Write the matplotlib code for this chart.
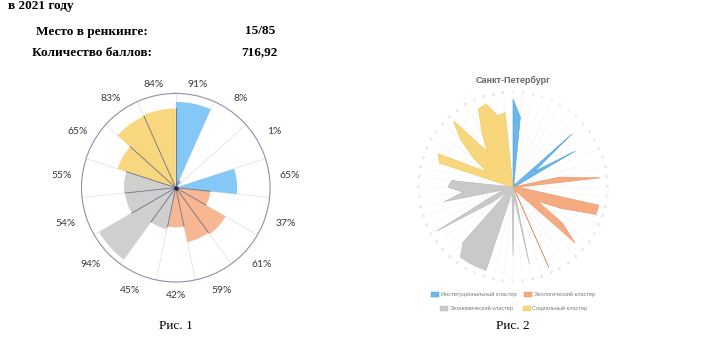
import numpy as np
import matplotlib
matplotlib.use("Agg")
import matplotlib.pyplot as plt
from matplotlib.patches import Rectangle

# ---------------- data ----------------
header_year = "в 2021 году"
rank_label = "Место в ренкинге:"
rank_value = "15/85"
score_label = "Количество баллов:"
score_value = "716,92"

fig1_values = [91, 8, 1, 65, 37, 61, 59, 42, 45, 94, 54, 55, 65, 83, 84]
fig1_clusters = ["inst"] * 4 + ["eco"] * 4 + ["econ"] * 4 + ["soc"] * 3
fig1_caption = "Рис. 1"

spb_title = "Санкт-Петербург"
spb_inst = [1.00, 0.80, 0.05, 0.04, 0.03, 0.03, 0.04, 0.06, 0.90, 0.30, 0.82, 0.06, 0.04]
spb_eco = [0.54, 1.00, 0.08, 0.10, 1.00, 1.03, 0.60, 0.32, 0.69, 0.95, 0.10, 0.05, 0.05, 1.03]
spb_econ = [0.05, 0.90, 0.12, 0.78, 0.10, 0.08, 1.01, 1.00, 1.00, 1.03, 0.85, 0.08, 0.30,
            1.02, 0.25, 0.10, 0.80, 0.57, 0.74, 0.70]
spb_soc = [0.03, 0.88, 0.93, 0.34, 0.55, 0.80, 1.02, 0.50, 0.70, 0.97, 0.99, 0.83, 0.85]
fig2_caption = "Рис. 2"

legend_names = {
    "inst": "Институциональный кластер",
    "eco": "Экологический кластер",
    "econ": "Экономический кластер",
    "soc": "Социальный кластер",
}

# ---------------- style ----------------
col1 = {"inst": "#84c8f8", "eco": "#f7b793", "econ": "#cfcfcf", "soc": "#f9d77f"}
col2 = {"inst": "#6ab6ee", "eco": "#f5aa80", "econ": "#c9c9c9", "soc": "#f8d67c"}
edge2 = {"inst": "#4d9fdc", "eco": "#e8946a", "econ": "#b5b5b5", "soc": "#eec65f"}

W, H = 720, 340
fig = plt.figure(figsize=(7.2, 3.4), dpi=100)
fig.patch.set_facecolor("white")


def fx(x):
    return x / W


def fy(y):
    return 1 - y / H


serif = ["Liberation Serif", "DejaVu Serif"]
fig.text(fx(8), fy(9.5), header_year, family=serif, weight="bold", fontsize=9.5, va="baseline")
fig.text(fx(36), fy(34.5), rank_label, family=serif, weight="bold", fontsize=9.5, va="baseline")
fig.text(fx(260.5), fy(34.5), rank_value, family=serif, weight="bold", fontsize=9.5,
         va="baseline", ha="center")
fig.text(fx(32), fy(55.5), score_label, family=serif, weight="bold", fontsize=9.5, va="baseline")
fig.text(fx(259.5), fy(55.5), score_value, family=serif, weight="bold", fontsize=9.5,
         va="baseline", ha="center")

# ---------------- figure 1: polar area ----------------
c1x, c1y, R1 = 175.8, 187.7, 94.3
ax1 = fig.add_axes([fx(c1x - R1), fy(c1y + R1), 2 * R1 / W, 2 * R1 / H], projection="polar")
ax1.set_theta_zero_location("N")
ax1.set_theta_direction(-1)
n1 = len(fig1_values)
step1 = 2 * np.pi / n1
th1 = np.arange(n1) * step1 + step1 / 2
r1 = np.array(fig1_values) / 100.0
ax1.bar(th1, r1, width=step1, color=[col1[c] for c in fig1_clusters],
        edgecolor="none", zorder=2)
for k in range(n1):
    a = k * step1
    inner = min(r1[k - 1], r1[k])
    ax1.plot([a, a], [0, inner], color="#6e6e80", lw=0.6, zorder=3)
    ax1.plot([a, a], [inner, 1], color="#e3e3e3", lw=0.6, zorder=1)
ax1.plot([0], [0], "o", ms=2.2, color="#22264a", zorder=4)
ax1.set_ylim(0, 1)
ax1.set_xticks([])
ax1.set_yticks([])
ax1.grid(False)
ax1.spines["polar"].set_color("#8f8fae")
ax1.spines["polar"].set_linewidth(0.8)
for t, v in zip(th1, fig1_values):
    ang = np.pi / 2 - t
    rp = 103 + 12 * abs(np.cos(ang)) + 5 * max(0.0, -np.sin(ang))
    ax1.text(t, rp / R1, f"{v}%", ha="center", va="center", fontsize=7.5,
             family=["Lato", "DejaVu Sans"], color="#3a3a3a", clip_on=False)

fig.text(fx(c1x), fy(326), fig1_caption, family=serif, fontsize=9.5, ha="center", va="center")

# ---------------- figure 2: radar ----------------
c2x, c2y, R2 = 513, 187, 88
ax2 = fig.add_axes([fx(c2x - R2), fy(c2y + R2), 2 * R2 / W, 2 * R2 / H], projection="polar")
ax2.set_theta_zero_location("N")
ax2.set_theta_direction(-1)
series = [("inst", spb_inst), ("eco", spb_eco), ("econ", spb_econ), ("soc", spb_soc)]
n2 = sum(len(s) for _, s in series)
th2 = np.arange(n2) * 2 * np.pi / n2
for t in th2:
    ax2.plot([t, t], [0, 1], color="#f2f2f2", lw=0.4, zorder=1)
start = 0
for key, vals in series:
    idx = np.arange(start, start + len(vals))
    tt = np.concatenate([[th2[idx[0]]], th2[idx], [th2[idx[-1]]]])
    rr = np.concatenate([[0], vals, [0]])
    ax2.fill(tt, rr, facecolor=col2[key], edgecolor=edge2[key], lw=0.4, zorder=2)
    start += len(vals)
for k, t in enumerate(th2):
    ax2.text(t, 1.07, str(k + 1), ha="center", va="center", fontsize=2.2,
             color="#c4c4c4", clip_on=False)
ax2.set_ylim(0, 1)
ax2.set_xticks([])
ax2.set_yticks([])
ax2.grid(False)
ax2.spines["polar"].set_visible(False)
ax2.patch.set_alpha(0)

sans = ["Liberation Sans", "DejaVu Sans"]
fig.text(fx(c2x), fy(80), spb_title, family=sans, weight="bold", fontsize=6.5,
         color="#666666", ha="center", va="center")

legend_layout = [("inst", 430.5, 294), ("eco", 524, 294), ("econ", 440, 308.5), ("soc", 522.5, 308.5)]
for key, x, y in legend_layout:
    fig.patches.append(Rectangle((fx(x), fy(y + 2.5)), 8 / W, 5 / H, transform=fig.transFigure,
                                 facecolor=col2[key], edgecolor=edge2[key], lw=0.3))
    fig.text(fx(x + 10), fy(y), legend_names[key], family=sans, fontsize=4.1,
             color="#7a7a7a", ha="left", va="center")

fig.text(fx(c2x), fy(326), fig2_caption, family=serif, fontsize=9.5, ha="center", va="center")

fig.savefig("out.png", dpi=100, facecolor="white")
